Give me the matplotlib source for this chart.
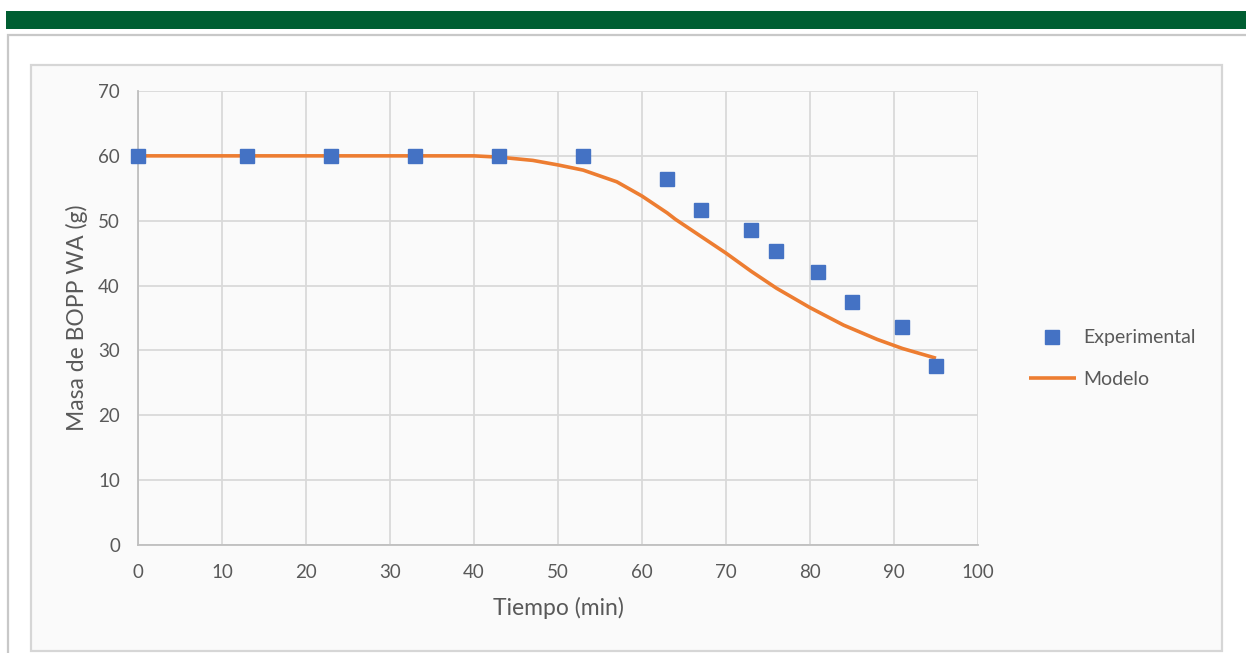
import matplotlib.pyplot as plt
import matplotlib.patches as mpatches

# experimental points
t_exp = [0, 13, 23, 33, 43, 53, 63, 67, 73, 76, 81, 85, 91, 95]
m_exp = [60, 60, 60, 60, 60, 60, 56.4, 51.6, 48.6, 45.3, 42.1, 37.5, 33.6, 27.6]

# model curve
t_mod = [0, 13, 23, 33, 40, 43, 47, 50, 53, 57, 60, 63, 64, 67, 70, 73, 76, 80, 84, 88, 91, 95]
m_mod = [60, 60, 60, 60, 60, 59.8, 59.3, 58.6, 57.8, 56.0, 53.8, 51.2, 50.2, 47.6,
         45.0, 42.2, 39.6, 36.6, 33.9, 31.7, 30.3, 28.8]

x_ticks = [0, 10, 20, 30, 40, 50, 60, 70, 80, 90, 100]
y_ticks = [0, 10, 20, 30, 40, 50, 60, 70]

plt.rcParams['font.family'] = ['Lato', 'DejaVu Sans']

W, H = 1246, 653
fig = plt.figure(figsize=(W / 100, H / 100), dpi=100)
fig.patch.set_facecolor('white')


def frac(x0, y0, x1, y1):
    return (x0 / W, 1 - y1 / H, (x1 - x0) / W, (y1 - y0) / H)


# green banner
x, y, w, h = frac(6, 11, 1246, 29)
fig.patches.append(mpatches.Rectangle((x, y), w, h, transform=fig.transFigure,
                                      facecolor='#005E32', edgecolor='none', zorder=-3))
# outer panel
x, y, w, h = frac(7.5, 34.5, 1250, 660)
fig.patches.append(mpatches.Rectangle((x, y), w, h, transform=fig.transFigure,
                                      facecolor='white', edgecolor='#C8C8C8', lw=1.6,
                                      zorder=-3))
# chart box
x, y, w, h = frac(31, 64.5, 1222, 651)
fig.patches.append(mpatches.Rectangle((x, y), w, h, transform=fig.transFigure,
                                      facecolor='#FAFAFA', edgecolor='#D6D6D6', lw=1.6,
                                      zorder=-2))

ax = fig.add_axes(frac(138, 91, 978, 545))
ax.set_facecolor('#FAFAFA')

ax.plot(t_mod, m_mod, color='#ED7D31', lw=2.6, label='Modelo', zorder=3,
        solid_capstyle='butt', solid_joinstyle='round')
ax.plot(t_exp, m_exp, linestyle='none', marker='s', markersize=9.5,
        color='#4472C4', label='Experimental', zorder=4, clip_on=False)

ax.set_xlim(0, 100)
ax.set_ylim(0, 70)
ax.set_xticks(x_ticks)
ax.set_yticks(y_ticks)
ax.grid(True, color='#D9D9D9', lw=1.3)
ax.set_axisbelow(True)
for s in ['top', 'right']:
    ax.spines[s].set_visible(False)
for s in ['left', 'bottom']:
    ax.spines[s].set_color('#BFBFBF')
    ax.spines[s].set_linewidth(1.3)
ax.tick_params(length=0, labelsize=13.5, labelcolor='#595959')
ax.tick_params(axis='y', pad=13)
ax.tick_params(axis='x', pad=14)

ax.set_xlabel('Tiempo (min)', fontsize=16.5, color='#595959', labelpad=11)
ax.set_ylabel('Masa de BOPP WA (g)', fontsize=16.5, color='#595959', labelpad=7)

handles, labels = ax.get_legend_handles_labels()
leg = fig.legend(handles[::-1], labels[::-1], loc='center left',
                 bbox_to_anchor=(1029 / W, 1 - 358.5 / H), frameon=False,
                 fontsize=14, handlelength=2.4, handletextpad=0.4,
                 labelspacing=1.25, borderaxespad=0, borderpad=0)
for t in leg.get_texts():
    t.set_color('#595959')

fig.savefig('out.png', dpi=100, facecolor='white')
